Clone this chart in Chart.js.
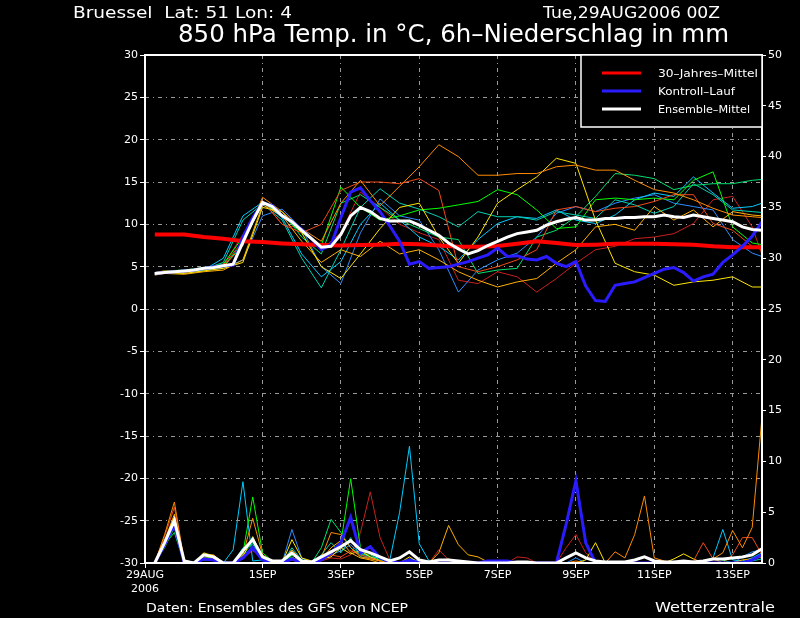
<!DOCTYPE html>
<html>
<head>
<meta charset="utf-8">
<title>Bruessel - 850 hPa Temp. / 6h-Niederschlag</title>
<script src="https://cdn.jsdelivr.net/npm/chart.js@4/dist/chart.umd.min.js"></script>
<style>
  html, body { margin: 0; padding: 0; background: #000; }
  #wrap { width: 800px; height: 618px; }
</style>
</head>
<body>
<div id="wrap"><canvas id="meteogram" width="800" height="618"></canvas></div>
<script>
// forecast hours after Tue 29AUG2006 00Z
const HOURS_6H = [6, 12, 18, 24, 30, 36, 42, 48, 54, 60, 66, 72, 78, 84, 90, 96, 102, 108, 114, 120,
  126, 132, 138, 144, 150, 156, 162, 168, 174, 180, 186, 192, 198, 204, 210, 216, 222, 228, 234, 240,
  246, 252, 258, 264, 270, 276, 282, 288, 294, 300, 306, 312, 318, 324, 330, 336, 342, 348, 354, 360,
  366, 372, 378];
// member temperatures read at a coarser step
const HOURS_M = [6, 12, 24, 36, 48, 60, 72, 84, 96, 108, 120, 132, 144, 156, 168, 180, 192, 204, 216,
  228, 240, 252, 264, 276, 288, 300, 312, 324, 336, 348, 360, 372, 378];

const TICK_HOURS = [0, 72, 120, 168, 216, 264, 312, 360];
const TICK_LABELS = [['29AUG', '2006'], '1SEP', '3SEP', '5SEP', '7SEP', '9SEP', '11SEP', '13SEP'];

// 850 hPa temperature (deg C)
const T_MEAN = [4.2, 4.3, 4.4, 4.5, 4.6, 4.8, 4.9, 5.1, 5.3, 7.9, 10.4, 12.6, 12.1, 11.0, 10.3, 9.3, 8.3, 7.3, 7.4, 8.8,
  11.0, 12.0, 11.5, 10.7, 10.4, 10.4, 10.4, 9.9, 9.3, 8.7, 7.8, 7.1, 6.5, 6.9, 7.5, 8.0, 8.5, 8.9, 9.1, 9.3,
  9.9, 10.3, 10.6, 10.8, 10.5, 10.5, 10.7, 10.7, 10.8, 10.8, 10.9, 10.9, 11.1, 10.9, 10.8, 11.1, 10.9, 10.7, 10.5, 10.3,
  9.7, 9.4, 9.3];
const T_CONTROL = [4.2, 4.3, 4.4, 4.5, 4.6, 4.8, 5.0, 5.1, 5.2, 8.5, 10.8, 12.5, 12.2, 11.0, 10.3, 9.4, 8.3, 7.0, 7.6, 10.8,
  13.8, 14.3, 12.8, 11.5, 9.8, 8.0, 5.3, 5.6, 4.8, 4.9, 5.0, 5.3, 5.6, 6.0, 6.4, 7.2, 6.2, 6.3, 5.9, 5.8,
  6.2, 5.4, 5.0, 5.6, 2.7, 1.0, 0.9, 2.8, 3.0, 3.2, 3.7, 4.2, 4.7, 4.9, 4.3, 3.3, 3.8, 4.1, 5.5, 6.4,
  7.4, 8.6, 10.3];
const T_CLIMATE = [8.8, 8.8, 8.8, 8.5, 8.3, 8.0, 7.9, 7.75, 7.65, 7.55, 7.5, 7.55, 7.6, 7.7, 7.65, 7.5, 7.35,
  7.35, 7.45, 7.7, 8.0, 7.8, 7.55, 7.6, 7.7, 7.7, 7.7, 7.65, 7.6, 7.4, 7.3, 7.3, 7.3];

const T_ORANGE = [4.2, 4.4, 4.3, 4.7, 5.0, 7.5, 13.2, 11.5, 9.5, 8.0, 12.5, 15.2, 12.2, 14.5, 16.8, 19.4, 18.0,
  15.8, 15.8, 16.0, 16.0, 16.8, 17.0, 16.4, 16.4, 15.2, 14.1, 13.7, 12.9, 11.9, 11.1, 10.9, 10.8];
const T_ORANGERED = [4.3, 4.5, 4.4, 4.8, 5.2, 8.0, 12.8, 10.0, 9.0, 10.0, 14.0, 15.0, 15.0, 14.8, 15.4, 14.0, 5.0,
  4.4, 5.0, 5.8, 7.0, 11.7, 12.1, 11.5, 11.9, 12.1, 12.7, 13.5, 13.5, 10.1, 9.3, 7.4, 7.0];
const T_YELLOW = [4.1, 4.3, 4.2, 4.5, 4.8, 5.5, 12.0, 11.5, 9.0, 5.0, 3.6, 6.5, 9.5, 12.0, 12.5, 8.5, 5.4,
  8.5, 12.5, 14.1, 15.6, 17.8, 17.2, 10.5, 5.4, 4.4, 4.0, 2.8, 3.2, 3.4, 3.8, 2.6, 2.6];
const T_GOLD = [4.0, 4.2, 4.1, 4.4, 4.6, 5.8, 12.3, 11.0, 8.0, 5.5, 7.0, 6.2, 8.0, 6.5, 7.0, 5.8, 4.4,
  3.4, 2.6, 3.2, 3.6, 5.4, 7.0, 9.7, 10.0, 9.3, 12.1, 10.5, 11.7, 9.7, 11.5, 11.1, 11.0];
const T_GREEN = [4.3, 4.5, 4.6, 4.9, 5.3, 8.5, 12.6, 11.0, 9.0, 7.5, 14.4, 12.0, 10.5, 11.0, 11.7, 11.9, 12.3,
  12.7, 14.1, 13.5, 11.7, 9.5, 9.7, 12.9, 13.1, 12.9, 13.1, 12.9, 15.2, 16.2, 9.7, 7.8, 7.6];
const T_SPRING = [4.2, 4.4, 4.5, 4.8, 5.0, 7.8, 12.5, 11.5, 8.5, 6.5, 12.5, 13.5, 12.0, 10.5, 9.5, 8.5, 8.2,
  4.2, 4.6, 4.8, 8.5, 9.3, 10.9, 13.3, 16.0, 15.8, 15.4, 14.1, 14.6, 14.8, 14.8, 15.2, 15.3];
const T_TEAL = [4.1, 4.3, 4.4, 4.7, 5.5, 10.5, 12.4, 10.5, 6.0, 2.5, 7.0, 12.0, 14.2, 12.5, 11.8, 10.9, 9.7,
  11.5, 10.9, 10.9, 10.5, 11.5, 11.1, 10.7, 12.9, 12.3, 11.3, 12.1, 14.8, 13.5, 11.7, 11.5, 11.4];
const T_CYAN = [4.2, 4.4, 4.3, 4.6, 6.0, 11.0, 12.6, 10.8, 6.5, 3.8, 5.6, 10.0, 12.5, 10.5, 8.5, 7.4, 5.8,
  8.2, 10.1, 10.9, 10.7, 11.7, 10.5, 10.1, 11.1, 12.9, 13.7, 13.3, 15.6, 13.7, 11.9, 12.1, 12.5];
const T_LIGHTBLUE = [4.3, 4.4, 4.5, 4.6, 4.8, 5.8, 11.0, 11.8, 9.5, 5.0, 3.0, 9.0, 13.0, 11.0, 10.5, 7.0, 2.0,
  4.6, 5.8, 6.6, 8.5, 11.3, 12.1, 11.5, 12.5, 13.1, 13.5, 12.5, 12.1, 11.7, 8.2, 6.6, 6.2];
const T_DARKRED = [4.2, 4.3, 4.4, 4.7, 5.2, 8.8, 12.7, 10.0, 9.5, 7.0, 9.0, 13.8, 12.0, 10.0, 9.0, 8.2, 3.4,
  3.0, 4.4, 3.8, 2.0, 3.6, 5.4, 7.0, 7.4, 8.3, 8.5, 8.9, 10.1, 12.9, 13.3, 9.7, 6.4];

// 6h precipitation (mm)
const P_MEAN = [0, 2.0, 4.2, 0.2, 0, 0.8, 0.6, 0, 0, 1.2,
  2.3, 0.6, 0.2, 0.2, 1.0, 0.2, 0.1, 0.6, 1.1, 1.6,
  2.2, 1.3, 1.0, 0.6, 0.2, 0.5, 1.1, 0.3, 0.1, 0.3,
  0.3, 0.2, 0.1, 0, 0, 0, 0, 0.1, 0.1, 0,
  0, 0, 0.5, 1.0, 0.5, 0.2, 0.1, 0.1, 0.1, 0.3,
  0.6, 0.2, 0.1, 0.1, 0.2, 0.1, 0.2, 0.4, 0.4, 0.5,
  0.6, 0.8, 1.4];
const P_CONTROL = [0, 1.8, 3.8, 0, 0, 0.4, 0.3, 0, 0, 0.5,
  1.5, 0.3, 0, 0, 0.4, 0, 0, 0.3, 1.0, 2.0,
  4.5, 1.0, 1.6, 0.5, 0.1, 0, 0.3, 0, 0, 0,
  0, 0, 0, 0, 0.2, 0.2, 0.2, 0, 0, 0,
  0, 0, 3.8, 8.1, 2.0, 0, 0, 0, 0, 0,
  0, 0, 0, 0, 0, 0, 0, 0, 0, 0,
  0, 0.3, 0.8];
const P_ORANGE = [0, 2.8, 6.0, 0.2, 0, 0.8, 0.5, 0, 0, 0.8,
  4.4, 0.8, 0.2, 0, 0.5, 0.2, 0, 0.5, 3.0, 2.8,
  1.5, 0.6, 0.4, 0.2, 0, 0, 0.3, 0, 0, 0.2,
  0.4, 0, 0, 0, 0, 0, 0, 0, 0, 0,
  0, 0, 0, 0.2, 0, 0, 0, 1.1, 0.5, 2.8,
  6.6, 0.5, 0.2, 0, 0, 0, 0.2, 0.4, 1.0, 3.2,
  1.5, 3.5, 14.4];
const P_ORANGERED = [0, 2.6, 5.5, 0.1, 0, 0.5, 0.4, 0, 0, 0.5,
  1.5, 0.4, 0, 0, 0.3, 0, 0, 0.3, 0.8, 0.6,
  1.2, 0.8, 0.5, 0.2, 0, 0, 0, 0, 0, 0,
  0, 0, 0, 0, 0, 0, 0, 0, 0, 0,
  0, 0, 0, 0, 0, 0, 0, 0, 0, 0,
  0, 0, 0, 0, 0, 0.2, 2.0, 0.4, 0, 0.8,
  2.5, 2.5, 0.8];
const P_YELLOW = [0, 2.0, 4.5, 0.3, 0, 1.0, 0.7, 0, 0, 0.6,
  2.6, 0.5, 0, 0, 2.3, 0.5, 0.2, 0.4, 0.6, 1.5,
  0.9, 1.2, 0.6, 0.2, 0, 0, 0.6, 0, 0, 0,
  0, 0, 0, 0, 0, 0, 0, 0, 0, 0,
  0, 0, 0, 0, 0.3, 2.0, 0, 0, 0, 0,
  0, 0, 0, 0.4, 0.9, 0.4, 0, 0, 0, 0,
  0, 0, 0];
const P_GOLD = [0, 2.2, 4.8, 0.2, 0, 0.8, 0.8, 0, 0, 0.4,
  1.5, 0.6, 0, 0, 1.3, 0.2, 0, 0.3, 1.5, 2.2,
  1.0, 0.5, 0.3, 0, 0, 0, 0, 0.2, 0, 1.0,
  3.7, 1.8, 0.8, 0.6, 0.1, 0, 0, 0, 0, 0,
  0, 0, 0, 0, 0, 0, 0, 0, 0, 0,
  0, 0, 0, 0, 0, 0, 0, 0, 0, 0,
  0.3, 0.4, 0.6];
const P_GREEN = [0, 1.5, 3.5, 0, 0, 0.6, 0.5, 0, 0, 1.0,
  6.5, 1.0, 0.2, 0, 0.8, 0.2, 0, 0.4, 1.0, 2.0,
  8.3, 1.5, 0.5, 0.3, 0, 0, 0.2, 0, 0, 0,
  0, 0, 0, 0, 0, 0, 0, 0, 0, 0,
  0, 0, 0, 0, 0, 0, 0, 0, 0, 0,
  0, 0, 0, 0, 0, 0, 0, 0.5, 0.3, 0,
  0, 0, 0];
const P_SPRING = [0, 1.8, 3.0, 0, 0, 0.4, 0.3, 0, 0, 0.8,
  2.0, 0.5, 0, 0, 0.6, 0, 0, 1.5, 4.3, 3.0,
  1.5, 0.8, 0.8, 0.3, 0, 0, 0, 0, 0, 0,
  0, 0, 0, 0, 0, 0, 0, 0, 0, 0,
  0, 0, 0, 0, 0, 0, 0, 0, 0, 0,
  0, 0, 0, 0, 0, 0, 0.2, 0.5, 0, 0,
  0, 0, 0];
const P_TEAL = [0, 2.0, 4.0, 0, 0, 0.5, 0.3, 0, 0, 1.5,
  1.8, 0.5, 0, 0, 1.5, 0.3, 0, 0.8, 2.0, 1.0,
  2.5, 0.6, 0.5, 0.2, 0, 0, 0.3, 0, 0, 0,
  0, 0, 0, 0, 0, 0, 0, 0, 0, 0,
  0, 0, 0, 0, 0, 0, 0, 0, 0, 0,
  0, 0, 0, 0, 0, 0, 0, 0, 0, 0,
  0, 0.2, 0.4];
const P_CYAN = [0, 1.8, 4.2, 0.1, 0, 0.3, 0.3, 0, 1.3, 8.0,
  0.2, 0.3, 0, 0, 0.8, 0.3, 0, 0.6, 1.2, 1.8,
  4.3, 1.0, 0.6, 0.5, 0.3, 5.0, 11.5, 1.9, 0.2, 0,
  0, 0, 0, 0, 0, 0, 0, 0, 0, 0,
  0, 0, 0, 0, 0, 0, 0, 0, 0, 0,
  0, 0, 0, 0, 0, 0, 0, 0.5, 3.3, 0.3,
  0.2, 0.5, 1.0];
const P_LIGHTBLUE = [0, 1.6, 3.8, 0, 0, 0.5, 0.4, 0, 0, 0.8,
  1.5, 0.3, 0, 0, 3.3, 0.5, 0, 0.3, 0.8, 1.2,
  1.8, 0.8, 0.5, 0.3, 0, 0, 0.4, 0.2, 0, 0,
  0, 0, 0, 0, 0, 0, 0, 0, 0, 0,
  0, 0, 0, 0.5, 0, 0, 0, 0, 0, 0,
  0, 0, 0, 0, 0.2, 0, 0, 0, 0, 0,
  0.6, 1.1, 1.3];
const P_DARKRED = [0, 2.0, 4.6, 0.2, 0, 0.6, 0.4, 0, 0, 0.5,
  1.2, 0.6, 0.2, 0, 0.5, 0.1, 0, 0.2, 0.5, 0.4,
  0.8, 3.0, 7.0, 2.5, 0.3, 0, 0, 0.2, 0, 1.3,
  0.3, 0, 0, 0, 0, 0, 0, 0.6, 0.5, 0,
  0, 0, 1.5, 2.8, 1.0, 0, 0, 0, 0, 0,
  0, 0, 0, 0, 0, 0, 0, 0, 0, 0,
  0, 0, 0];

const MEMBERS = [
  { color: '#ff8c00', temp: T_ORANGE, precip: P_ORANGE },
  { color: '#f04a18', temp: T_ORANGERED, precip: P_ORANGERED },
  { color: '#ffe600', temp: T_YELLOW, precip: P_YELLOW },
  { color: '#ffb000', temp: T_GOLD, precip: P_GOLD },
  { color: '#00ff00', temp: T_GREEN, precip: P_GREEN },
  { color: '#00e070', temp: T_SPRING, precip: P_SPRING },
  { color: '#00d0b0', temp: T_TEAL, precip: P_TEAL },
  { color: '#00ccff', temp: T_CYAN, precip: P_CYAN },
  { color: '#2f8cff', temp: T_LIGHTBLUE, precip: P_LIGHTBLUE },
  { color: '#c82020', temp: T_DARKRED, precip: P_DARKRED }
];

const FONT = "'DejaVu Sans', 'Liberation Sans', sans-serif";
const GRID_GRAY = '#9a9a9a';

function points(hours, values) {
  return hours.map((h, i) => ({ x: h, y: values[i] }));
}

function line(label, hours, values, color, width, axis, order) {
  return {
    label: label,
    data: points(hours, values),
    borderColor: color,
    backgroundColor: color,
    borderWidth: width,
    pointRadius: 0,
    tension: 0,
    fill: false,
    yAxisID: axis,
    order: order
  };
}

const datasets = [
  line('Ensemble-Mittel', HOURS_6H, T_MEAN, '#ffffff', 3, 'y', 0),
  line('Ensemble-Mittel Niederschlag', HOURS_6H, P_MEAN, '#ffffff', 3, 'y2', 0),
  line('Kontroll-Lauf', HOURS_6H, T_CONTROL, '#2a1cff', 3, 'y', 1),
  line('Kontroll-Lauf Niederschlag', HOURS_6H, P_CONTROL, '#2a1cff', 3, 'y2', 1),
  line('30-Jahres-Mittel', HOURS_M, T_CLIMATE, '#ff0000', 4, 'y', 2)
];
MEMBERS.forEach((m, i) => {
  datasets.push(line('Member ' + (i + 1), HOURS_M, m.temp, m.color, 1, 'y', 10 + i));
  datasets.push(line('Member ' + (i + 1) + ' RR', HOURS_6H, m.precip, m.color, 1, 'y2', 10 + i));
});

// text squeezed/stretched to the width it has in the original
function fitText(ctx, text, x, y, width, size) {
  ctx.save();
  ctx.font = size + 'px ' + FONT;
  ctx.textBaseline = 'alphabetic';
  ctx.textAlign = 'left';
  const w = ctx.measureText(text).width;
  ctx.translate(x, y);
  ctx.scale(width / w, 1);
  ctx.fillStyle = '#ffffff';
  ctx.fillText(text, 0, 0);
  ctx.restore();
}

const decorations = {
  id: 'decorations',
  beforeDraw(chart) {
    const ctx = chart.ctx;
    ctx.save();
    ctx.fillStyle = '#000000';
    ctx.fillRect(0, 0, chart.width, chart.height);
    ctx.restore();
  },
  afterDatasetsDraw(chart) {
    const ctx = chart.ctx;
    const a = chart.chartArea;
    ctx.save();
    ctx.strokeStyle = '#ffffff';
    ctx.lineWidth = 2;
    ctx.strokeRect(a.left, a.top, a.right - a.left, a.bottom - a.top);

    // legend box, top right inside the plot
    const bx = 581, by = a.top, bw = a.right - 581, bh = 72;
    ctx.fillStyle = '#000000';
    ctx.fillRect(bx, by, bw, bh);
    ctx.lineWidth = 1.5;
    ctx.strokeRect(bx, by, bw, bh);
    const entries = [
      ['30\u2013Jahres\u2013Mittel', '#ff0000', 100],
      ['Kontroll\u2013Lauf', '#2a1cff', 77],
      ['Ensemble\u2013Mittel', '#ffffff', 92]
    ];
    const rows = [73, 91, 109];
    entries.forEach((e, i) => {
      ctx.strokeStyle = e[1];
      ctx.lineWidth = 3;
      ctx.beginPath();
      ctx.moveTo(602, rows[i]);
      ctx.lineTo(641, rows[i]);
      ctx.stroke();
      fitText(ctx, e[0], 658, rows[i] + 4, e[2], 11);
    });
    ctx.restore();
  },
  afterDraw(chart) {
    const ctx = chart.ctx;
    fitText(ctx, 'Bruessel  Lat: 51 Lon: 4', 73, 18, 219, 15);
    fitText(ctx, 'Tue,29AUG2006 00Z', 543, 18, 177, 15);
    fitText(ctx, '850 hPa Temp. in \u00b0C, 6h\u2013Niederschlag in mm', 178, 42, 551, 25);
    fitText(ctx, 'Daten: Ensembles des GFS von NCEP', 146, 612, 262, 12);
    fitText(ctx, 'Wetterzentrale', 655, 612, 120, 14);
  }
};

Chart.defaults.color = '#ffffff';
Chart.defaults.font.family = FONT;

new Chart(document.getElementById('meteogram').getContext('2d'), {
  type: 'line',
  data: { datasets: datasets },
  plugins: [decorations],
  options: {
    responsive: false,
    animation: false,
    devicePixelRatio: 1,
    layout: { padding: { top: 55, left: 0, right: 0, bottom: 0 } },
    plugins: { legend: { display: false }, tooltip: { enabled: false }, title: { display: false } },
    scales: {
      x: {
        type: 'linear',
        min: 0,
        max: 378,
        afterBuildTicks: (scale) => { scale.ticks = TICK_HOURS.map(v => ({ value: v })); },
        afterFit: (scale) => { scale.height = 55; },
        ticks: {
          autoSkip: false,
          maxRotation: 0,
          padding: 1,
          color: '#ffffff',
          font: { size: 11 },
          callback: (value) => TICK_LABELS[TICK_HOURS.indexOf(value)]
        },
        grid: {
          color: (c) => (c.tick && c.tick.value === 0) ? 'rgba(0,0,0,0)' : GRID_GRAY,
          lineWidth: 1,
          tickColor: '#ffffff',
          tickLength: 5
        },
        border: { display: false, dash: [4, 4, 1, 4] }
      },
      y: {
        position: 'left',
        min: -30,
        max: 30,
        afterFit: (scale) => { scale.width = 145; },
        ticks: { stepSize: 5, padding: 2, color: '#ffffff', font: { size: 11 } },
        grid: {
          color: (c) => (c.tick && Math.abs(c.tick.value) === 30) ? 'rgba(0,0,0,0)' : GRID_GRAY,
          lineWidth: 1,
          tickColor: '#ffffff',
          tickLength: 5
        },
        border: { display: false, dash: [4, 4, 1, 4] }
      },
      y2: {
        position: 'right',
        min: 0,
        max: 50,
        afterFit: (scale) => { scale.width = 38; },
        ticks: { stepSize: 5, padding: 2, color: '#ffffff', font: { size: 11 } },
        grid: { drawOnChartArea: false, tickColor: '#ffffff', tickLength: 4 },
        border: { display: false }
      }
    }
  }
});
</script>
</body>
</html>
